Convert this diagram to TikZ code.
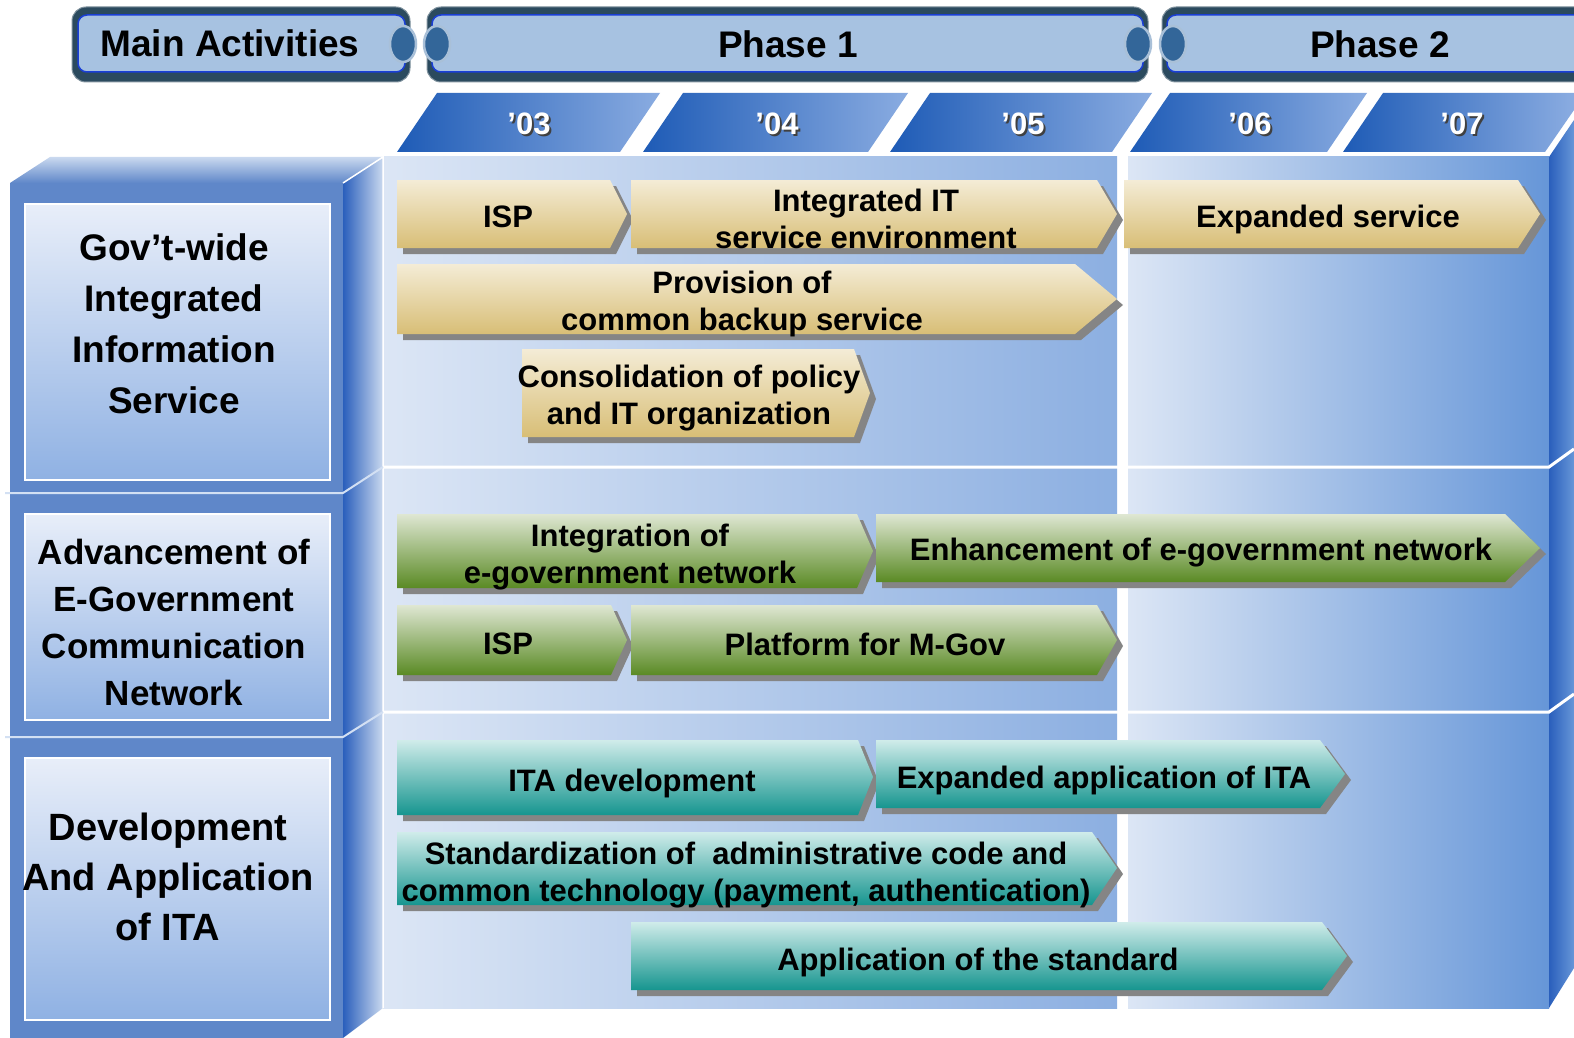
\documentclass[tikz,border=0pt]{standalone}
\usepackage{fontspec}
\setmainfont{Liberation Sans}
\definecolor{tanhi}{HTML}{F4ECD6}
\definecolor{tanlo}{HTML}{D8BE76}
\definecolor{grnhi}{HTML}{DFE7D3}
\definecolor{grnlo}{HTML}{5A8A24}
\definecolor{tealhi}{HTML}{D0ECEA}
\definecolor{teallo}{HTML}{16958F}
\definecolor{barshadow}{HTML}{858585}
\definecolor{hdrdark}{HTML}{2B4A5E}
\definecolor{hdrfill}{HTML}{A7C2E1}
\definecolor{hdrline}{HTML}{1A3FD6}
\definecolor{knobfill}{HTML}{336699}
\definecolor{knobring}{HTML}{A9C0D8}
\definecolor{yrdark}{HTML}{1E5BB6}
\definecolor{yrlight}{HTML}{8AACE1}
\definecolor{front}{HTML}{5F87C9}
\definecolor{boxhi}{HTML}{E8EEF9}
\definecolor{boxlo}{HTML}{8FB1E3}
\definecolor{sidedark}{HTML}{2A5FBC}
\definecolor{sidelight}{HTML}{CAD9EF}
\definecolor{panelhi}{HTML}{DCE6F5}
\definecolor{panello}{HTML}{8CAFE1}
\definecolor{panellotwo}{HTML}{6696D8}
\definecolor{seplight}{HTML}{D3E0F3}

\begin{document}
\begin{tikzpicture}[x=1pt,y=-1pt,
lbl/.style={font=\fontsize{31}{37}\selectfont\bfseries,align=center,inner sep=0pt},
hdr/.style={font=\fontsize{37}{44}\selectfont\bfseries,inner sep=0pt},
yr/.style={font=\fontsize{31}{37}\selectfont\bfseries,text=white,inner sep=0pt},
yrshade/.style={yr,text=black!75},
hdrouter/.style={fill=hdrdark,draw=hdrdark!60!white,line width=1pt,rounded corners=14pt},
hdrinner/.style={fill=hdrfill,draw=hdrline,line width=1.5pt,rounded corners=9pt},
knob/.style={fill=knobfill,draw=knobring,line width=2.5pt},
yrbox/.style={left color=yrdark,right color=yrlight},
lbox/.style={top color=boxhi,bottom color=boxlo,draw=white,line width=2.5pt},
tanbar/.style={top color=tanhi,bottom color=tanlo,preaction={fill=barshadow,transform canvas={xshift=6pt,yshift=-6pt}}},
grnbar/.style={top color=grnhi,bottom color=grnlo,preaction={fill=barshadow,transform canvas={xshift=6pt,yshift=-6pt}}},
tealbar/.style={top color=tealhi,bottom color=teallo,preaction={fill=barshadow,transform canvas={xshift=6pt,yshift=-6pt}}}]
\useasboundingbox (0,0) rectangle (1574,1038);
\fill [white] (0,0) rectangle (1574,1038);
\path [hdrouter] (72,7) rectangle (410,82);
\path [hdrinner] (78,15) rectangle (405,72);
\path [hdrouter] (427,7) rectangle (1148,82);
\path [hdrinner] (432,15) rectangle (1143,72);
\path [hdrouter] (1162,7) rectangle (1610,82);
\path [hdrinner] (1167,15) rectangle (1605,72);
\path [knob] (403,44) ellipse (13pt and 18pt);
\path [knob] (437,44) ellipse (13pt and 18pt);
\path [knob] (1138,44) ellipse (13pt and 18pt);
\path [knob] (1173,44) ellipse (13pt and 18pt);
\node [hdr] (mainact) at (230,43) {Main Activities};
\node [hdr] (phase1) at (788,44) {Phase 1};
\node [hdr] (phase2) at (1380,44) {Phase 2};
\path [yrbox] (397,152) -- (437,93) -- (660,93) -- (620,152) -- cycle;
\path [yrbox] (643,152) -- (683,93) -- (908,93) -- (868,152) -- cycle;
\path [yrbox] (890,152) -- (930,93) -- (1152,93) -- (1112,152) -- cycle;
\path [yrbox] (1130,152) -- (1170,93) -- (1367,93) -- (1327,152) -- cycle;
\path [yrbox] (1343,152) -- (1383,93) -- (1574,93) -- (1574,110) -- (1545,152) -- cycle;
\node [yrshade] (y03s) at (531,126) {’03};
\node [yr] (y03) at (529,124) {’03};
\node [yrshade] (y04s) at (779,126) {’04};
\node [yr] (y04) at (777,124) {’04};
\node [yrshade] (y05s) at (1025,126) {’05};
\node [yr] (y05) at (1023,124) {’05};
\node [yrshade] (y06s) at (1252,126) {’06};
\node [yr] (y06) at (1250,124) {’06};
\node [yrshade] (y07s) at (1464,126) {’07};
\node [yr] (y07) at (1462,124) {’07};
\shade [left color=panelhi,right color=panello] (383,157) rectangle (1117,1008);
\shade [left color=panelhi,right color=panellotwo] (1128,157) rectangle (1549,1008);
\shade [left color=sidedark,right color=panellotwo] (1549,157) -- (1574,120) -- (1574,968) -- (1549,1008) -- cycle;
\fill [front] (10,183) rectangle (343,1038);
\shade [top color=sidelight,bottom color=front] (10,183) -- (50,157) -- (383,157) -- (343,183) -- cycle;
\shade [left color=sidedark,right color=sidelight] (343,183) -- (383,157) -- (383,1008) -- (343,1038) -- cycle;
\draw [white,line width=1.5pt] (343,183) -- (383,157) -- (383,1008);
\draw [white,line width=3pt] (383,467) -- (1549,467) -- (1574,449);
\draw [white,line width=3pt] (383,712) -- (1549,712) -- (1574,694);
\draw [seplight,line width=2pt] (5,493) -- (343,493) -- (383,467);
\draw [seplight,line width=2pt] (5,737) -- (343,737) -- (383,712);
\path [lbox] (25,204) rectangle (330,480);
\path [lbox] (25,514) rectangle (330,720);
\path [lbox] (25,758) rectangle (330,1020);
\node [font=\fontsize{37}{51}\selectfont\bfseries,align=center,inner sep=0pt] (govt) at (174,324) {Gov’t-wide\\Integrated\\Information\\Service};
\node [font=\fontsize{35}{47}\selectfont\bfseries,align=center,inner sep=0pt] (egov) at (174,622) {Advancement of\\E-Government\\Communication\\Network};
\node [font=\fontsize{38}{50}\selectfont\bfseries,align=center,inner sep=0pt] (ita) at (168,877) {Development\\And Application\\of ITA};
\path [tanbar] (397,180) -- (610,180) -- (627,214) -- (610,248) -- (397,248) -- cycle;
\path [tanbar] (631,180) -- (1097,180) -- (1117,214) -- (1097,248) -- (631,248) -- cycle;
\path [tanbar] (1124,180) -- (1518,180) -- (1540,214) -- (1518,248) -- (1124,248) -- cycle;
\path [tanbar] (397,264) -- (1075,264) -- (1117,299) -- (1075,334) -- (397,334) -- cycle;
\path [tanbar] (522,349) -- (854,349) -- (870,393) -- (854,437) -- (522,437) -- cycle;
\path [grnbar] (397,514) -- (857,514) -- (873,551) -- (857,588) -- (397,588) -- cycle;
\path [grnbar] (876,514) -- (1505,514) -- (1540,548) -- (1505,582) -- (876,582) -- cycle;
\path [grnbar] (397,605) -- (611,605) -- (627,640) -- (611,675) -- (397,675) -- cycle;
\path [grnbar] (631,605) -- (1097,605) -- (1117,640) -- (1097,675) -- (631,675) -- cycle;
\path [tealbar] (397,740) -- (858,740) -- (873,777) -- (858,815) -- (397,815) -- cycle;
\path [tealbar] (876,740) -- (1320,740) -- (1345,774) -- (1320,808) -- (876,808) -- cycle;
\path [tealbar] (397,832) -- (1092,832) -- (1117,868) -- (1092,905) -- (397,905) -- cycle;
\path [tealbar] (631,922) -- (1322,922) -- (1347,956) -- (1322,990) -- (631,990) -- cycle;
\node [lbl] (isp1) at (508,217) {ISP};
\node [lbl] (intit) at (866,219) {Integrated IT\\service environment};
\node [lbl] (expserv) at (1328,219) {Expanded service};
\node [lbl] (backup) at (742,304) {Provision of\\common backup service};
\node [lbl] (consol) at (689,398) {Consolidation of policy\\and IT organization};
\node [lbl] (integ) at (630,557) {Integration of\\e-government network};
\node [lbl] (enhance) at (1201,553) {Enhancement of e-government network};
\node [lbl] (isp2) at (508,644) {ISP};
\node [lbl] (mgov) at (865,644) {Platform for M-Gov};
\node [lbl] (itadev) at (632,783) {ITA development};
\node [lbl] (expita) at (1104,780) {Expanded application of ITA};
\node [lbl] (stdz) at (746,875) {Standardization of~ administrative code and\\common technology (payment, authentication)};
\node [lbl] (applstd) at (978,962) {Application of the standard};
\end{tikzpicture}
\end{document}
